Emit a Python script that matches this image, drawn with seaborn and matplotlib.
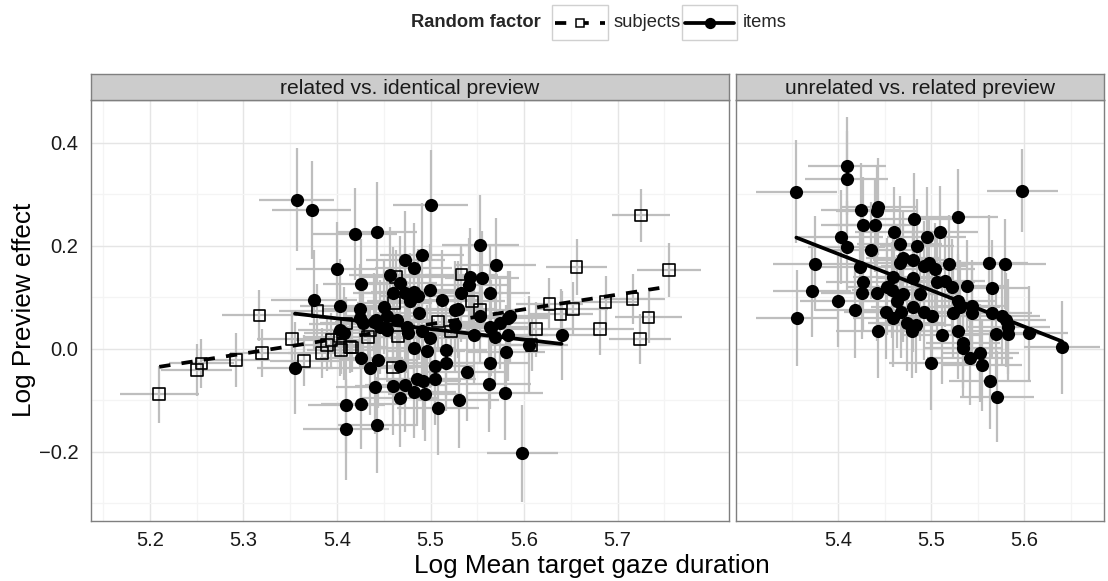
import numpy as np
import pandas as pd
import matplotlib
matplotlib.use("Agg")
import matplotlib.pyplot as plt
import seaborn as sns
from matplotlib.patches import Rectangle
from matplotlib.lines import Line2D

sns.set_theme(style="white")
plt.rcParams['font.family'] = ['Liberation Sans', 'DejaVu Sans']

# ---------------- data ----------------
facet_labels = ["related vs. identical preview", "unrelated vs. related preview"]
legend_title = "Random factor"
series_labels = ["subjects", "items"]

# left panel, subjects
subj_x = [5.210, 5.250, 5.255, 5.292, 5.317, 5.320, 5.352, 5.365, 5.379, 5.384,
          5.389, 5.394, 5.403, 5.404, 5.410, 5.414, 5.416, 5.433, 5.435, 5.460,
          5.461, 5.463, 5.465, 5.508, 5.522, 5.533, 5.544, 5.553, 5.608, 5.613,
          5.627, 5.639, 5.652, 5.656, 5.681, 5.687, 5.716, 5.725, 5.733, 5.724,
          5.755]
subj_y = [-0.088, -0.041, -0.028, -0.021, 0.065, -0.008, 0.019, -0.023, 0.074, -0.008,
          0.008, 0.017, 0.024, -0.002, 0.049, 0.004, 0.003, 0.023, 0.037, -0.036,
          0.089, 0.140, 0.024, 0.053, 0.034, 0.144, 0.092, 0.076, 0.008, 0.038,
          0.087, 0.067, 0.077, 0.159, 0.038, 0.091, 0.097, 0.259, 0.061, 0.019,
          0.153]
subj_xerr = [0.042, 0.038, 0.035, 0.036, 0.040, 0.034, 0.038, 0.037, 0.041, 0.036,
             0.035, 0.039, 0.037, 0.036, 0.040, 0.034, 0.038, 0.036, 0.039, 0.037,
             0.040, 0.036, 0.038, 0.035, 0.037, 0.039, 0.036, 0.040, 0.034, 0.037,
             0.036, 0.035, 0.038, 0.033, 0.036, 0.034, 0.035, 0.031, 0.036, 0.033,
             0.034]
subj_yerr = [0.055, 0.050, 0.048, 0.052, 0.050, 0.047, 0.053, 0.049, 0.051, 0.048,
             0.050, 0.052, 0.049, 0.047, 0.051, 0.050, 0.048, 0.052, 0.049, 0.050,
             0.053, 0.051, 0.048, 0.050, 0.049, 0.052, 0.050, 0.048, 0.051, 0.053,
             0.050, 0.049, 0.052, 0.055, 0.050, 0.051, 0.049, 0.052, 0.050, 0.048,
             0.052]

# left panel, items
itemL_x = [5.357, 5.373, 5.419, 5.443, 5.500, 5.400, 5.426, 5.375, 5.403, 5.473,
           5.491, 5.482, 5.457, 5.467, 5.460, 5.478, 5.450, 5.425, 5.425, 5.442,
           5.453, 5.403, 5.553, 5.570, 5.542, 5.555, 5.499, 5.532, 5.541, 5.563,
           5.482, 5.487, 5.512, 5.488, 5.529, 5.553, 5.565, 5.583, 5.574, 5.546,
           5.569, 5.583, 5.640, 5.605, 5.453, 5.464, 5.475, 5.473, 5.526, 5.407,
           5.428, 5.439, 5.446, 5.476, 5.491, 5.499, 5.482, 5.496, 5.517, 5.426,
           5.444, 5.435, 5.467, 5.505, 5.517, 5.485, 5.492, 5.505, 5.441, 5.460,
           5.473, 5.482, 5.494, 5.467, 5.508, 5.410, 5.426, 5.410, 5.443, 5.526,
           5.585, 5.581, 5.539, 5.564, 5.562, 5.580, 5.530, 5.598, 5.355, 5.564]
itemL_y = [0.289, 0.269, 0.223, 0.226, 0.280, 0.155, 0.126, 0.095, 0.084, 0.173,
           0.183, 0.157, 0.144, 0.128, 0.108, 0.092, 0.082, 0.077, 0.060, 0.056,
           0.037, 0.037, 0.201, 0.162, 0.140, 0.138, 0.115, 0.108, 0.124, 0.108,
           0.111, 0.102, 0.095, 0.069, 0.077, 0.063, 0.040, 0.060, 0.050, 0.027,
           0.024, 0.027, 0.026, 0.008, 0.063, 0.056, 0.043, 0.108, 0.076, 0.030,
           0.050, 0.053, 0.043, 0.030, 0.034, 0.021, 0.001, -0.005, -0.002, -0.018,
           -0.021, -0.037, -0.034, -0.034, -0.028, -0.059, -0.063, -0.059, -0.073, -0.072,
           -0.070, -0.083, -0.087, -0.096, -0.115, -0.109, -0.107, -0.156, -0.148, 0.047,
           0.063, -0.007, -0.044, -0.027, -0.069, -0.085, -0.099, -0.203, -0.037, 0.043]
itemL_xerr = [0.040, 0.042, 0.045, 0.043, 0.040, 0.044, 0.041, 0.046, 0.043, 0.042,
              0.045, 0.041, 0.044, 0.040, 0.043, 0.046, 0.042, 0.041, 0.044, 0.043,
              0.040, 0.045, 0.041, 0.043, 0.044, 0.040, 0.042, 0.045, 0.041, 0.043,
              0.046, 0.042, 0.040, 0.044, 0.041, 0.043, 0.045, 0.042, 0.040, 0.044,
              0.041, 0.043, 0.039, 0.042, 0.044, 0.041, 0.045, 0.043, 0.040, 0.042,
              0.046, 0.041, 0.043, 0.044, 0.040, 0.042, 0.045, 0.041, 0.043, 0.044,
              0.040, 0.046, 0.042, 0.041, 0.043, 0.045, 0.040, 0.044, 0.042, 0.041,
              0.043, 0.045, 0.040, 0.042, 0.044, 0.041, 0.043, 0.046, 0.042, 0.040,
              0.043, 0.041, 0.044, 0.042, 0.045, 0.040, 0.043, 0.038, 0.041, 0.042]
itemL_yerr = [0.100, 0.095, 0.090, 0.098, 0.105, 0.092, 0.088, 0.096, 0.090, 0.094,
              0.100, 0.087, 0.093, 0.091, 0.089, 0.095, 0.092, 0.088, 0.094, 0.090,
              0.093, 0.089, 0.097, 0.092, 0.095, 0.090, 0.088, 0.094, 0.091, 0.093,
              0.089, 0.092, 0.096, 0.090, 0.094, 0.088, 0.093, 0.091, 0.089, 0.095,
              0.092, 0.090, 0.087, 0.094, 0.091, 0.093, 0.089, 0.092, 0.095, 0.090,
              0.088, 0.094, 0.091, 0.093, 0.089, 0.096, 0.092, 0.090, 0.094, 0.088,
              0.093, 0.091, 0.095, 0.089, 0.092, 0.090, 0.094, 0.088, 0.093, 0.096,
              0.091, 0.089, 0.092, 0.095, 0.090, 0.094, 0.088, 0.098, 0.093, 0.091,
              0.089, 0.092, 0.095, 0.090, 0.093, 0.091, 0.094, 0.095, 0.090, 0.092]

# right panel, items
itemR_x = [5.355, 5.409, 5.409, 5.598, 5.425, 5.443, 5.442, 5.427, 5.440, 5.482,
           5.529, 5.403, 5.409, 5.435, 5.460, 5.466, 5.485, 5.495, 5.509, 5.375,
           5.372, 5.356, 5.400, 5.418, 5.423, 5.427, 5.426, 5.442, 5.443, 5.452,
           5.459, 5.470, 5.481, 5.467, 5.492, 5.498, 5.504, 5.519, 5.481, 5.470,
           5.488, 5.506, 5.515, 5.522, 5.539, 5.562, 5.580, 5.565, 5.451, 5.459,
           5.468, 5.474, 5.479, 5.484, 5.481, 5.492, 5.501, 5.512, 5.523, 5.529,
           5.531, 5.529, 5.534, 5.534, 5.542, 5.553, 5.555, 5.500, 5.544, 5.544,
           5.565, 5.576, 5.581, 5.570, 5.583, 5.605, 5.641, 5.563, 5.571, 5.458,
           5.463, 5.583]
itemR_y = [0.305, 0.355, 0.330, 0.307, 0.270, 0.276, 0.267, 0.241, 0.241, 0.252,
           0.255, 0.217, 0.197, 0.191, 0.226, 0.204, 0.199, 0.218, 0.227, 0.165,
           0.113, 0.060, 0.092, 0.076, 0.159, 0.129, 0.109, 0.108, 0.034, 0.121,
           0.140, 0.176, 0.173, 0.166, 0.160, 0.166, 0.155, 0.165, 0.137, 0.107,
           0.107, 0.129, 0.131, 0.121, 0.122, 0.166, 0.165, 0.118, 0.072, 0.060,
           0.072, 0.050, 0.034, 0.047, 0.082, 0.072, 0.063, 0.027, 0.069, 0.092,
           0.082, 0.035, 0.012, 0.001, -0.018, -0.008, -0.031, -0.027, 0.083, 0.069,
           0.069, 0.063, 0.056, 0.029, 0.029, 0.030, 0.003, -0.062, -0.093, 0.115,
           0.092, 0.043]
itemR_xerr = [0.044, 0.042, 0.045, 0.038, 0.043, 0.041, 0.044, 0.046, 0.042, 0.040,
              0.043, 0.045, 0.041, 0.044, 0.042, 0.046, 0.040, 0.043, 0.041, 0.045,
              0.042, 0.044, 0.041, 0.043, 0.046, 0.040, 0.044, 0.042, 0.045, 0.041,
              0.043, 0.040, 0.044, 0.042, 0.046, 0.041, 0.043, 0.045, 0.040, 0.042,
              0.044, 0.041, 0.043, 0.046, 0.040, 0.042, 0.044, 0.041, 0.045, 0.043,
              0.040, 0.042, 0.044, 0.041, 0.046, 0.043, 0.040, 0.042, 0.045, 0.041,
              0.043, 0.044, 0.040, 0.042, 0.046, 0.041, 0.043, 0.045, 0.040, 0.042,
              0.044, 0.041, 0.043, 0.040, 0.045, 0.042, 0.041, 0.044, 0.040, 0.043,
              0.042, 0.045]
itemR_yerr = [0.100, 0.095, 0.092, 0.080, 0.090, 0.094, 0.088, 0.093, 0.091, 0.089,
              0.095, 0.092, 0.090, 0.094, 0.088, 0.093, 0.091, 0.096, 0.089, 0.092,
              0.090, 0.094, 0.088, 0.093, 0.091, 0.095, 0.089, 0.092, 0.090, 0.094,
              0.088, 0.093, 0.091, 0.096, 0.089, 0.092, 0.090, 0.094, 0.088, 0.093,
              0.091, 0.095, 0.089, 0.092, 0.090, 0.094, 0.088, 0.093, 0.091, 0.096,
              0.089, 0.092, 0.090, 0.094, 0.088, 0.093, 0.091, 0.095, 0.089, 0.092,
              0.090, 0.094, 0.088, 0.093, 0.091, 0.096, 0.089, 0.092, 0.090, 0.094,
              0.088, 0.093, 0.091, 0.095, 0.089, 0.092, 0.090, 0.094, 0.088, 0.093,
              0.091, 0.092]

x_ticks_left = [5.2, 5.3, 5.4, 5.5, 5.6, 5.7]
x_ticks_right = [5.4, 5.5, 5.6]
y_ticks = [-0.2, 0.0, 0.2, 0.4]

subj = pd.DataFrame({"x": subj_x, "y": subj_y, "xe": subj_xerr, "ye": subj_yerr})
itL = pd.DataFrame({"x": itemL_x, "y": itemL_y, "xe": itemL_xerr, "ye": itemL_yerr})
itR = pd.DataFrame({"x": itemR_x, "y": itemR_y, "xe": itemR_xerr, "ye": itemR_yerr})

# ---------------- figure ----------------
W, H = 1108, 581
fig = plt.figure(figsize=(W / 100, H / 100), dpi=100)

def fx(px):
    return px / W

def fy(py):
    return 1 - py / H

pan_bottom, pan_top = 521, 100
axL = fig.add_axes([fx(91), fy(pan_bottom), fx(729 - 91), (pan_bottom - pan_top) / H])
axR = fig.add_axes([fx(736), fy(pan_bottom), fx(1104 - 736), (pan_bottom - pan_top) / H])

ERR_C = "#BEBEBE"
GRID_MAJ = "#E5E5E5"
GRID_MIN = "#F4F4F4"
BORDER = "#7F7F7F"
TICK_FS = 14.5

def errbars(ax, d):
    ax.errorbar(d["x"], d["y"], xerr=d["xe"], yerr=d["ye"], fmt="none",
                ecolor=ERR_C, elinewidth=1.6, capsize=0, zorder=2)

def style(ax, xlim, xt, xminor, show_y):
    ax.set_facecolor("white")
    ax.set_xlim(*xlim)
    ax.set_ylim(-0.334, 0.483)
    ax.set_xticks(xt)
    ax.set_xticks(xminor, minor=True)
    ax.set_yticks(y_ticks)
    ax.set_yticks([-0.3, -0.1, 0.1, 0.3], minor=True)
    ax.grid(True, which="major", color=GRID_MAJ, lw=1.0, zorder=0)
    ax.grid(True, which="minor", color=GRID_MIN, lw=0.9, zorder=0)
    ax.set_axisbelow(True)
    for s in ax.spines.values():
        s.set_visible(True)
        s.set_color(BORDER)
        s.set_linewidth(1.0)
    ax.tick_params(axis="both", which="major", direction="out", length=4, width=1,
                   color="#333333", labelsize=TICK_FS, labelcolor="#1a1a1a", pad=3)
    ax.tick_params(axis="y", which="major", pad=5)
    ax.tick_params(axis="both", which="minor", length=0)
    ax.set_xlabel("")
    ax.set_ylabel("")
    if not show_y:
        ax.tick_params(axis="y", which="major", length=0, labelleft=False)

# left panel
errbars(axL, subj)
errbars(axL, itL)
sns.scatterplot(data=subj, x="x", y="y", ax=axL, marker="s", s=70,
                facecolor="none", edgecolor="black", linewidth=1.2, zorder=3)
sns.scatterplot(data=itL, x="x", y="y", ax=axL, marker="o", s=90,
                color="black", edgecolor="black", linewidth=0, zorder=4)
sns.regplot(data=subj, x="x", y="y", ax=axL, scatter=False, ci=None,
            line_kws=dict(color="black", lw=2.7, dashes=(3, 3), zorder=5))
sns.regplot(data=itL, x="x", y="y", ax=axL, scatter=False, ci=None,
            line_kws=dict(color="black", lw=2.7, zorder=5))
style(axL, (5.137, 5.819), x_ticks_left, [5.15, 5.25, 5.35, 5.45, 5.55, 5.65, 5.75], True)

# right panel
errbars(axR, itR)
sns.scatterplot(data=itR, x="x", y="y", ax=axR, marker="o", s=90,
                color="black", edgecolor="black", linewidth=0, zorder=4)
sns.regplot(data=itR, x="x", y="y", ax=axR, scatter=False, ci=None,
            line_kws=dict(color="black", lw=2.7, zorder=5))
style(axR, (5.290, 5.686), x_ticks_right, [5.35, 5.45, 5.55, 5.65], False)

# strips
strip_top = 74
for (l, r), lab in zip([(91, 729), (736, 1104)], facet_labels):
    sax = fig.add_axes([fx(l), fy(pan_top), fx(r - l), (pan_top - strip_top) / H])
    sax.set_facecolor("#CCCCCC")
    sax.set_xticks([])
    sax.set_yticks([])
    for s in sax.spines.values():
        s.set_color(BORDER)
        s.set_linewidth(1.0)
    sax.text(0.5, 0.45, lab, ha="center", va="center", fontsize=15.2, color="#1a1a1a",
             transform=sax.transAxes)

# axis titles
fig.text(fx(592), fy(566), "Log Mean target gaze duration", ha="center",
         va="center", fontsize=18.8, color="black")
fig.text(fx(24), fy(310), "Log Preview effect", ha="center", va="center",
         rotation=90, fontsize=18.8, color="black")

# legend
ly = 22.5
fig.text(fx(411), fy(ly), legend_title, ha="left", va="center", fontsize=13.2,
         fontweight="bold")
for (l, r), lab, ls, mk, mfc in zip([(552, 608), (682, 737)], series_labels,
                                   ["--", "-"], ["s", "o"], ["none", "black"]):
    fig.patches.append(Rectangle((fx(l), fy(40)), fx(r - l), 35 / H, transform=fig.transFigure,
                                 facecolor="white", edgecolor="#D0D0D0", lw=1.0))
    ln = Line2D([fx(l + 3), fx(r - 3)], [fy(ly), fy(ly)], transform=fig.transFigure,
                color="black", lw=2.7, linestyle=ls)
    if ls == "--":
        ln.set_dashes((3, 3))
    fig.lines.append(ln)
    fig.lines.append(Line2D([fx((l + r) / 2)], [fy(ly)], transform=fig.transFigure,
                            marker=mk, markersize=7 if mk == "o" else 6,
                            markerfacecolor="white" if mfc == "none" else mfc,
                            markeredgecolor="black", markeredgewidth=1.1, lw=0))
    fig.text(fx(r + 6), fy(ly), lab, ha="left", va="center", fontsize=13.2)

fig.savefig("out.png", dpi=100)
